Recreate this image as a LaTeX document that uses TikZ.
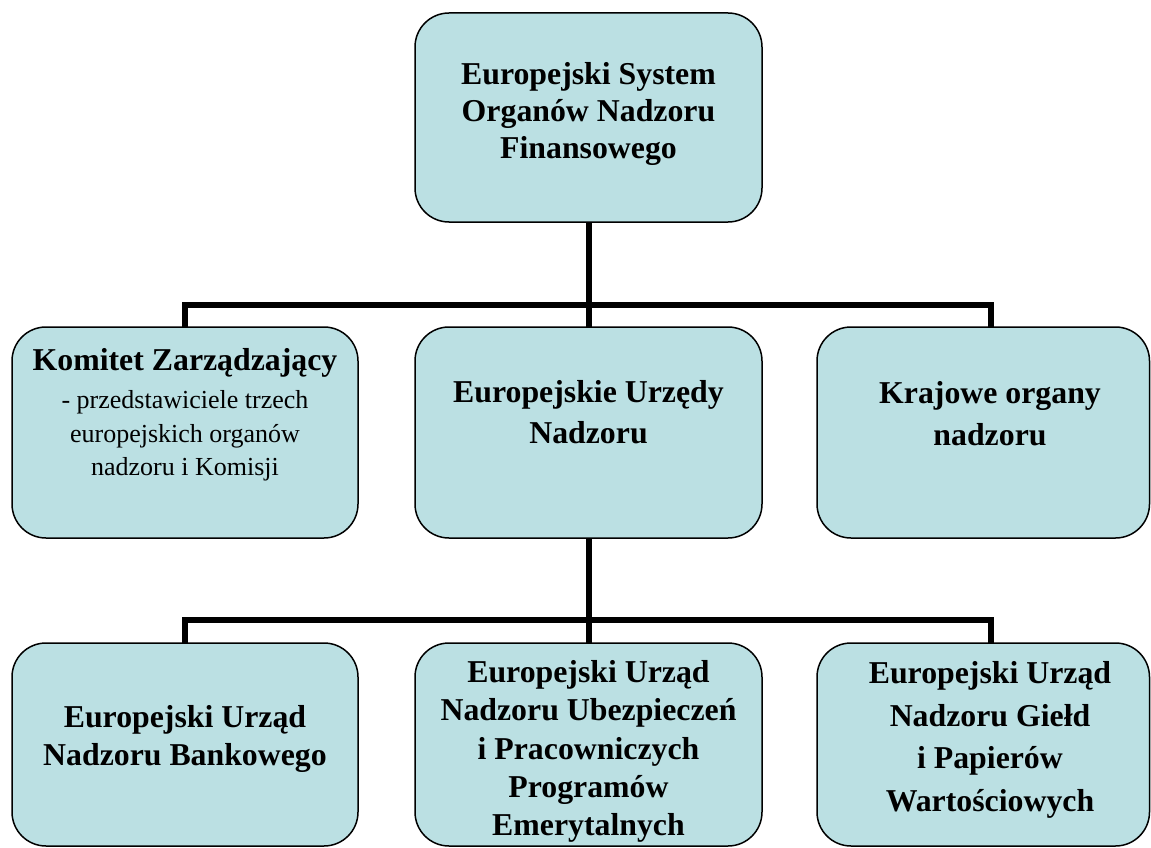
\documentclass[tikz,border=0pt]{standalone}
\usepackage{fontspec}
\setmainfont{Liberation Serif}
\definecolor{boxfill}{RGB}{187,224,227}
\tikzset{
  box/.style={draw=black, line width=1.5pt, fill=boxfill, rounded corners=34pt, inner sep=0pt, outer sep=0pt},
  conn/.style={draw=black, line width=6pt},
  btxt/.style={align=center, inner sep=0pt, font=\fontsize{31.8}{#1}\selectfont\bfseries},
  rtxt/.style={align=center, inner sep=0pt, font=\fontsize{26}{33.5}\selectfont},
}
\begin{document}
\begin{tikzpicture}[x=1pt,y=-1pt]
\useasboundingbox (0,0) rectangle (1151,848);
% boxes
\node[box, minimum width=347pt, minimum height=209pt] (top) at (588.5,117.5) {};
\node[box, minimum width=346pt, minimum height=211pt] (kz) at (185,432.5) {};
\node[box, minimum width=347pt, minimum height=211pt] (eun) at (588.5,432.5) {};
\node[box, minimum width=332.5pt, minimum height=211pt] (kraj) at (983.25,432.5) {};
\node[box, minimum width=346pt, minimum height=203pt] (bank) at (185,744.5) {};
\node[box, minimum width=347pt, minimum height=203pt] (ubez) at (588.5,744.5) {};
\node[box, minimum width=332.5pt, minimum height=203pt] (gield) at (983.25,744.5) {};
% junctions
\coordinate (j1l) at (185,305);
\coordinate (j1r) at (991,305);
\coordinate (j2l) at (185,620);
\coordinate (j2r) at (991,620);
% connectors
\draw[conn] (top.south) -- (eun.north);
\draw[conn] (kz.north) -- (j1l) -- (j1r) -- (j1r |- kraj.north);
\draw[conn] (eun.south) -- (ubez.north);
\draw[conn] (bank.north) -- (j2l) -- (j2r) -- (j2r |- gield.north);
% texts
\node[btxt=37] (topT) at (588.5,114) {Europejski System\\Organów Nadzoru\\Finansowego};
\node[rtxt] (kzT) at (185,415) {{\fontsize{31.8}{37}\selectfont\bfseries Komitet Zarządzający}\\[4.5pt]- przedstawiciele trzech\\europejskich organów\\nadzoru i Komisji};
\node[btxt=41] (eunT) at (588.5,412) {Europejskie Urzędy\\Nadzoru};
\node[btxt=42] (krajT) at (990,413.7) {Krajowe organy\\nadzoru};
\node[btxt=38] (bankT) at (185,739) {Europejski Urząd\\Nadzoru Bankowego};
\node[btxt=38.25] (ubezT) at (588.5,751.5) {Europejski Urząd\\Nadzoru Ubezpieczeń\\i Pracowniczych\\Programów\\Emerytalnych};
\node[btxt=42.7] (gieldT) at (990,740) {Europejski Urząd\\Nadzoru Giełd\\i Papierów\\Wartościowych};
\end{tikzpicture}
\end{document}
